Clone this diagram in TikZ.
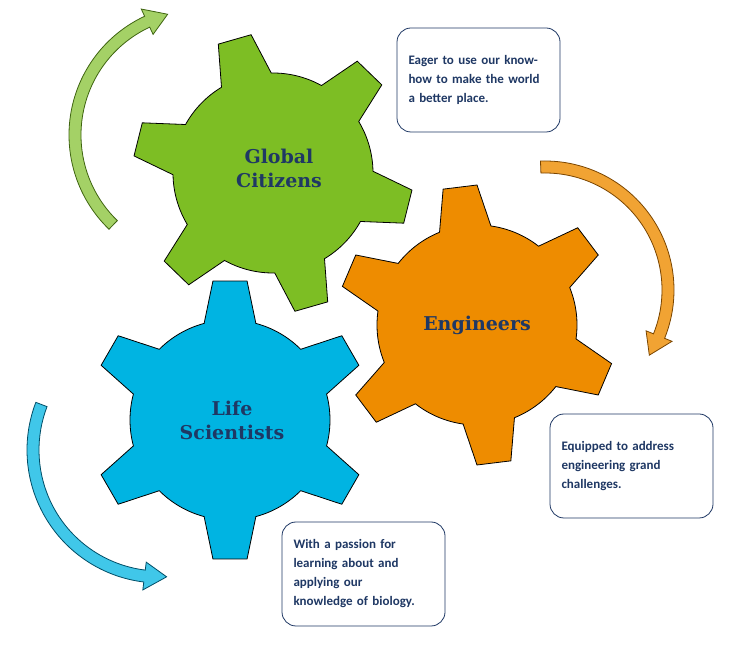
\documentclass[tikz,border=0pt]{standalone}
\usepackage{fontspec}
\setmainfont{Carlito}
\newfontfamily\gearfont{DejaVu Serif}
\definecolor{navy}{HTML}{1F3864}
\definecolor{gGreen}{HTML}{7DBE24}
\definecolor{gGreenD}{HTML}{3E6410}
\definecolor{gOrange}{HTML}{EE8C00}
\definecolor{gOrangeD}{HTML}{7A4500}
\definecolor{gBlue}{HTML}{00B4E2}
\definecolor{gBlueD}{HTML}{004D66}
\tikzset{
  gearlabel/.style={font=\gearfont\bfseries\fontsize{19}{24}\selectfont, text=navy, align=center},
  infobox/.style={draw=navy, line width=0.8pt, rounded corners=14pt, fill=white, minimum width=163pt, minimum height=104pt, text width=140pt, align=left, font=\bfseries\fontsize{13}{19}\selectfont, text=navy, inner sep=0pt}
}
\newcommand{\mygear}[4]{% cx cy rot colour
  \filldraw[fill=#4, draw=black, line width=0.8pt, shift={(#1pt,#2pt)}]
    ({#3-15}:100pt)
    \foreach \i in {0,...,5}{
      -- ({#3+60*\i-7}:140pt) -- ({#3+60*\i+7}:140pt) -- ({#3+60*\i+15}:100pt)
      arc[start angle={#3+60*\i+15}, end angle={#3+60*\i+45}, radius=100pt]
    } -- cycle;
}
\newcommand{\myarrow}[8]{% cx cy r start end sign fill draw
  \filldraw[fill=#7, draw=#8, line width=0.8pt, shift={(#1pt,#2pt)}]
    (#4:#3pt+6pt) arc[start angle=#4, end angle=#5, radius=#3pt+6pt]
    -- (#5:#3pt+14pt) -- ({#5+#6*10}:#3pt) -- (#5:#3pt-14pt) -- (#5:#3pt-6pt)
    arc[start angle=#5, end angle=#4, radius=#3pt-6pt] -- cycle;
}
\begin{document}
\begin{tikzpicture}[x=1pt,y=1pt]
\useasboundingbox (0,0) rectangle (745,659);
% arrows
\myarrow{200}{524}{125}{226}{115}{-1}{gGreen!70!white}{gGreenD}
\myarrow{545}{369}{123}{92}{-22}{-1}{gOrange!80!white}{gOrangeD}
\myarrow{160}{209}{127}{159}{263}{1}{gBlue!75!white}{gBlueD}
% gears
\mygear{273}{486}{106}{gGreen}
\mygear{477}{334}{97}{gOrange}
\mygear{230}{239}{90}{gBlue}
\node[gearlabel] (gc) at (279,491) {Global\\Citizens};
\node[gearlabel] (en) at (477,334) {Engineers};
\node[gearlabel] (ls) at (232,239) {Life\\Scientists};
% boxes
\node[infobox] (b1) at (478.5,579) {Eager to use our know-\\how to make the world\\a better place.};
\node[infobox] (b2) at (631.5,193) {Equipped to address\\engineering grand\\challenges.};
\node[infobox] (b3) at (363.5,85) {With a passion for\\learning about and\\applying our\\knowledge of biology.};
\end{tikzpicture}
\end{document}
